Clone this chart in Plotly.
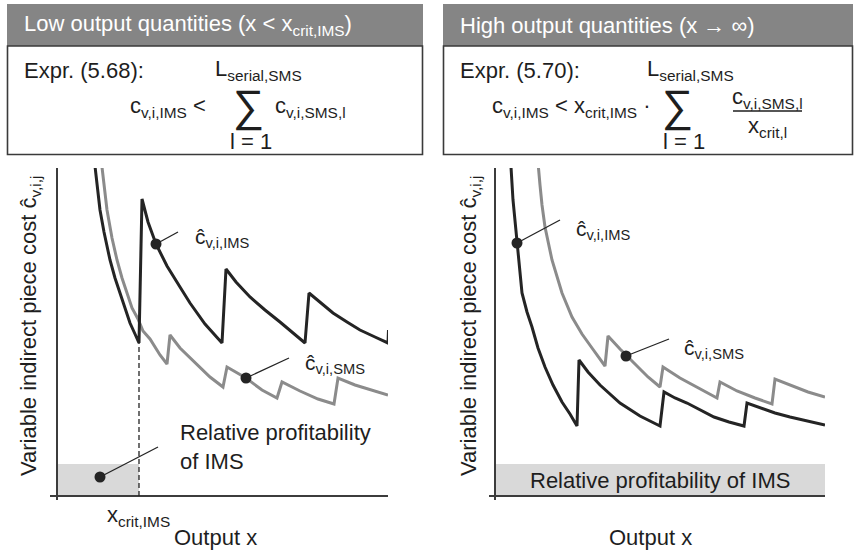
import plotly.graph_objects as go

W, H = 854, 551

# ---------------- data ----------------
# Left panel: low output quantities
left_ims_x = [3.5, 3.8, 4.0, 4.3, 4.7, 5.3, 5.8, 6.3, 6.8, 7.3, 7.8, 8.2,
              8.5, 9.1, 9.9, 11.0, 12.3, 13.3, 14.8, 16.5,
              16.9, 17.9, 19.3, 20.8, 22.3, 23.8, 24.8,
              25.2, 26.3, 27.6, 29.0, 30.3, 31.8, 33.1, 33.15]
left_ims_y = [35.6, 32.9, 31.1, 28.6, 26.4, 23.6, 21.8, 20.3, 18.7, 17.3, 16.2, 15.3,
              29.7, 27.4, 25.2, 23.0, 20.9, 19.3, 17.2, 15.3,
              22.7, 21.4, 19.9, 18.6, 17.4, 16.1, 15.3,
              20.3, 19.4, 18.3, 17.4, 16.6, 15.9, 15.3, 16.6]

left_sms_x = [4.3, 4.5, 4.7, 5.0, 5.5, 6.0, 6.5, 7.0, 7.5, 8.1, 8.6, 9.3, 10.3, 11.0,
              11.3, 12.3, 13.8, 15.3, 16.6,
              17.0, 18.9, 20.5, 22.0,
              22.5, 24.3, 26.1, 27.7,
              28.1, 29.8, 31.5, 33.1]
left_sms_y = [34.6, 32.9, 30.6, 28.6, 25.8, 23.6, 21.8, 20.3, 18.8, 17.7, 16.5, 15.7, 14.1, 13.2,
              16.1, 14.8, 13.3, 11.9, 10.9,
              12.9, 11.8, 10.6, 9.8,
              11.4, 10.5, 9.7, 9.2,
              11.8, 11.1, 10.6, 10.1]

# Right panel: high output quantities
right_ims_x = [1.5, 1.6, 1.8, 2.0, 2.2, 2.5, 2.7, 3.2, 3.7, 4.3, 5.0, 5.8, 6.7, 7.5, 8.2,
               8.4, 9.3, 10.5, 12.5, 14.5, 16.5,
               16.9, 18.0, 19.2, 20.5, 21.9, 23.4, 24.9,
               25.2, 26.5, 28.0, 29.5, 31.2, 33.0]
right_ims_y = [35.6, 32.9, 29.6, 27.4, 25.3, 22.6, 20.3, 18.4, 16.9, 14.8, 12.9, 11.1, 9.4, 8.2, 7.0,
               13.6, 12.4, 11.1, 9.3, 8.0, 7.0,
               10.4, 9.8, 9.3, 8.6, 7.9, 7.4, 7.0,
               9.3, 8.8, 8.3, 7.9, 7.5, 7.1]

right_sms_x = [4.1, 4.3, 4.5, 4.7, 5.0, 5.7, 6.7, 7.7, 8.7, 9.7, 11.0,
               11.3, 12.5, 14.0, 15.3, 16.5,
               16.8, 18.5, 20.3, 22.2,
               22.5, 24.2, 26.0, 27.7,
               28.0, 29.7, 31.3, 33.0]
right_sms_y = [35.6, 32.9, 31.1, 29.1, 26.9, 23.6, 20.3, 17.9, 16.2, 14.8, 13.0,
               16.0, 14.7, 13.2, 11.9, 10.9,
               12.9, 11.8, 10.8, 9.8,
               11.4, 10.5, 9.8, 9.2,
               11.7, 11.0, 10.4, 9.9]

x_crit_ims = 8.2          # critical output quantity (left panel)
ims_at_crit = 15.3        # IMS cost at x_crit
profit_band = 3.2         # height of the "relative profitability" band

# label points: (dot x, dot y, leader end x, leader end y, label x, label y)
left_labels = [(9.9, 25.2, 12.1, 26.4, 13.6, 25.8, "ĉ<sub>v,i,IMS</sub>"),
               (18.9, 11.8, 23.2, 13.8, 24.6, 13.2, "ĉ<sub>v,i,SMS</sub>")]
right_labels = [(2.2, 25.3, 6.5, 27.6, 7.9, 26.6, "ĉ<sub>v,i,IMS</sub>"),
                (13.1, 14.0, 17.4, 15.7, 18.7, 14.7, "ĉ<sub>v,i,SMS</sub>")]
left_band_dot = (4.3, 1.9, 10.1, 4.9)

# ---------------- styling ----------------
FONT = "Arial, Liberation Sans, sans-serif"
TXT = "#1e1e1e"
BLACK = "#242424"
GRAY = "#8b8b8b"
AX = "#3c3c3c"


def px(x):
    return x / W


def py(y):
    return 1 - y / H


fig = go.Figure()

# curves
fig.add_trace(go.Scatter(x=left_sms_x, y=left_sms_y, mode="lines",
                         line=dict(color=GRAY, width=3), xaxis="x", yaxis="y"))
fig.add_trace(go.Scatter(x=left_ims_x, y=left_ims_y, mode="lines",
                         line=dict(color=BLACK, width=3), xaxis="x", yaxis="y"))
fig.add_trace(go.Scatter(x=right_sms_x, y=right_sms_y, mode="lines",
                         line=dict(color=GRAY, width=3), xaxis="x2", yaxis="y2"))
fig.add_trace(go.Scatter(x=right_ims_x, y=right_ims_y, mode="lines",
                         line=dict(color=BLACK, width=3), xaxis="x2", yaxis="y2"))

# dashed x_crit line
fig.add_trace(go.Scatter(x=[x_crit_ims, x_crit_ims], y=[0, ims_at_crit], mode="lines",
                         line=dict(color=BLACK, width=1.3, dash="5px,3px"),
                         xaxis="x", yaxis="y"))

annotations = []
for labels, xa, ya in ((left_labels, "x", "y"), (right_labels, "x2", "y2")):
    for dx, dy, lx, ly, tx, ty, txt in labels:
        fig.add_trace(go.Scatter(x=[dx, lx], y=[dy, ly], mode="lines",
                                 line=dict(color=BLACK, width=1.3), xaxis=xa, yaxis=ya))
        fig.add_trace(go.Scatter(x=[dx], y=[dy], mode="markers",
                                 marker=dict(color=BLACK, size=11), xaxis=xa, yaxis=ya))
        annotations.append(dict(x=tx, y=ty, xref=xa, yref=ya, text=txt, showarrow=False,
                                xanchor="left", yanchor="middle",
                                font=dict(size=21, color=TXT, family=FONT)))

bx, by, blx, bly = left_band_dot
fig.add_trace(go.Scatter(x=[bx, blx], y=[by, bly], mode="lines",
                         line=dict(color=BLACK, width=1.3), xaxis="x", yaxis="y"))
fig.add_trace(go.Scatter(x=[bx], y=[by], mode="markers",
                         marker=dict(color=BLACK, size=11), xaxis="x", yaxis="y"))

shapes = [
    # profitability bands
    dict(type="rect", xref="x", yref="y", x0=0, x1=x_crit_ims, y0=0, y1=profit_band,
         fillcolor="#d9d9d9", line=dict(width=0), layer="below"),
    dict(type="rect", xref="x2", yref="y2", x0=0, x1=33.0, y0=0, y1=profit_band,
         fillcolor="#d9d9d9", line=dict(width=0), layer="below"),
    # header bars
    dict(type="rect", xref="paper", yref="paper", x0=px(7), x1=px(423), y0=py(46), y1=py(4),
         fillcolor="#858585", line=dict(width=0)),
    dict(type="rect", xref="paper", yref="paper", x0=px(443), x1=px(853), y0=py(46), y1=py(4),
         fillcolor="#858585", line=dict(width=0)),
    # formula boxes
    dict(type="rect", xref="paper", yref="paper", x0=px(7.5), x1=px(422.5), y0=py(154.5), y1=py(46),
         fillcolor="rgba(0,0,0,0)", line=dict(width=1.6, color="#3a3a3a")),
    dict(type="rect", xref="paper", yref="paper", x0=px(443.5), x1=px(852.5), y0=py(154.5), y1=py(46),
         fillcolor="rgba(0,0,0,0)", line=dict(width=1.6, color="#3a3a3a")),
    # fraction bar
    dict(type="line", xref="paper", yref="paper", x0=px(733), x1=px(802), y0=py(111), y1=py(111),
         line=dict(width=1.5, color=TXT)),
]


def ann(x, y, text, size=22, xanchor="left", color=TXT, angle=0):
    annotations.append(dict(x=px(x), y=py(y), xref="paper", yref="paper", text=text,
                            showarrow=False, xanchor=xanchor, yanchor="middle",
                            textangle=angle, font=dict(size=size, color=color, family=FONT)))


# headers
ann(22, 25, "Low output quantities (x &lt; x<sub>crit,IMS</sub>)", size=22, color="white")
ann(458, 25, "High output quantities (x → ∞)", size=22, color="white")

# left formula
ann(22, 70, "Expr. (5.68):")
ann(213, 70, "L<sub>serial,SMS</sub>")
ann(128, 107, "c<sub>v,i,IMS</sub> &lt;")
ann(248, 106, "∑", size=44, xanchor="center")
ann(273, 107, "c<sub>v,i,SMS,l</sub>")
ann(251, 141, "l = 1", xanchor="center")

# right formula
ann(458, 70, "Expr. (5.70):")
ann(645, 70, "L<sub>serial,SMS</sub>")
ann(490, 107, "c<sub>v,i,IMS</sub> &lt; x<sub>crit,IMS</sub> ·")
ann(677, 106, "∑", size=44, xanchor="center")
ann(684, 141, "l = 1", xanchor="center")
ann(767, 98, "c<sub>v,i,SMS,l</sub>", xanchor="center")
ann(767, 127, "x<sub>crit,l</sub>", xanchor="center")

# axis texts
ann(30, 326, "Variable indirect piece cost ĉ<sub>v,i,j</sub>", size=22, xanchor="center", angle=-90)
ann(470, 326, "Variable indirect piece cost ĉ<sub>v,i,j</sub>", size=22, xanchor="center", angle=-90)
ann(138, 516, "x<sub>crit,IMS</sub>", xanchor="center")
ann(215, 537, "Output x", xanchor="center")
ann(650, 537, "Output x", xanchor="center")

# band texts
annotations.append(dict(x=12.1, y=4.9, xref="x", yref="y",
                        text="Relative profitability<br>of IMS", showarrow=False,
                        xanchor="left", yanchor="middle", align="left",
                        font=dict(size=22, color=TXT, family=FONT)))
annotations.append(dict(x=16.5, y=1.6, xref="x2", yref="y2",
                        text="Relative profitability of IMS", showarrow=False,
                        xanchor="center", yanchor="middle",
                        font=dict(size=22, color=TXT, family=FONT)))

axis_common = dict(showgrid=False, showticklabels=False, ticks="", showline=False,
                   zeroline=True, zerolinecolor=AX, zerolinewidth=1.6, fixedrange=True)

fig.update_layout(
    width=W, height=H,
    margin=dict(l=0, r=0, t=0, b=0),
    paper_bgcolor="white", plot_bgcolor="rgba(0,0,0,0)",
    showlegend=False,
    shapes=shapes,
    annotations=annotations,
    xaxis=dict(domain=[px(50), px(388)], range=[-0.7, 33.1], anchor="y", **axis_common),
    yaxis=dict(domain=[py(500), py(168)], range=[-0.4, 32.8], anchor="x", **axis_common),
    xaxis2=dict(domain=[px(489), px(825)], range=[-0.6, 33.0], anchor="y2", **axis_common),
    yaxis2=dict(domain=[py(500), py(168)], range=[-0.4, 32.8], anchor="x2", **axis_common),
)

fig.write_html("out.html")
